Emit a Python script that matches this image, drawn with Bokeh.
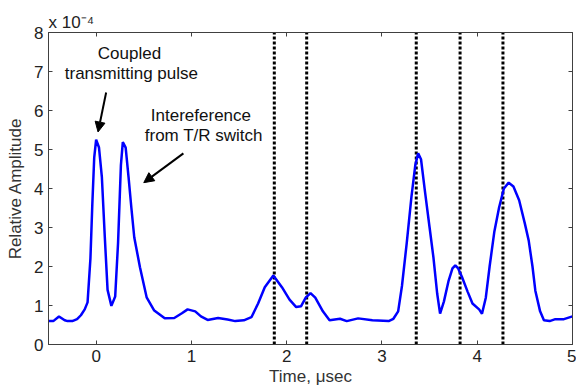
from bokeh.plotting import figure
from bokeh.models import (Range1d, LinearAxis, FixedTicker, Label, Arrow, NormalHead,
                          CustomJSTickFormatter, Title)
from bokeh.embed import file_html
from bokeh.resources import INLINE

# signal samples (time in microseconds, amplitude in 1e-4 units)
time_us = [-0.5, -0.45, -0.39, -0.33, -0.3, -0.25, -0.2, -0.16, -0.12, -0.09, -0.06, -0.04,
           -0.02, 0.0, 0.03, 0.06, 0.09, 0.12, 0.16, 0.2, 0.23, 0.26, 0.28, 0.31, 0.34,
           0.37, 0.4, 0.46, 0.53, 0.61, 0.72, 0.82, 0.9, 0.96, 1.04, 1.1, 1.17, 1.28,
           1.38, 1.46, 1.55, 1.63, 1.7, 1.77, 1.86, 1.95, 2.03, 2.1, 2.15, 2.2, 2.25,
           2.3, 2.38, 2.45, 2.56, 2.63, 2.75, 2.9, 3.07, 3.12, 3.17, 3.21, 3.26, 3.31,
           3.35, 3.38, 3.41, 3.45, 3.5, 3.54, 3.58, 3.61, 3.65, 3.7, 3.74, 3.77, 3.8,
           3.84, 3.9, 3.95, 4.02, 4.05, 4.09, 4.13, 4.18, 4.23, 4.28, 4.33, 4.38,
           4.44, 4.5, 4.54, 4.58, 4.61, 4.66, 4.7, 4.76, 4.82, 4.91, 5.0]
amplitude = [0.6, 0.6, 0.72, 0.62, 0.6, 0.6, 0.65, 0.75, 0.9, 1.08, 2.2, 3.6,
             4.8, 5.25, 5.05, 4.3, 2.8, 1.4, 0.99, 1.23, 2.6, 4.6, 5.19, 5.05, 4.3,
             3.5, 2.75, 1.98, 1.21, 0.87, 0.67, 0.68, 0.8, 0.9, 0.85, 0.72, 0.63, 0.68,
             0.64, 0.6, 0.62, 0.7, 1.05, 1.47, 1.77, 1.47, 1.15, 0.96, 0.98, 1.2, 1.32,
             1.2, 0.85, 0.62, 0.66, 0.6, 0.67, 0.62, 0.6, 0.66, 0.85, 1.5, 2.6, 3.8,
             4.6, 4.9, 4.75, 3.95, 3.0, 2.24, 1.3, 0.79, 1.1, 1.64, 1.95, 2.03, 1.95,
             1.73, 1.35, 1.05, 0.9, 0.79, 1.2, 2.0, 2.9, 3.52, 4.0, 4.15, 4.05,
             3.7, 3.1, 2.67, 2.0, 1.38, 0.85, 0.62, 0.6, 0.65, 0.65, 0.72]

# dotted marker times (microseconds)
marker_times = [1.87, 2.21, 3.36, 3.82, 4.27]

x_ticks = [0, 1, 2, 3, 4, 5]
y_ticks = [0, 1, 2, 3, 4, 5, 6, 7, 8]

FONT = "Liberation Sans"
AX = "#404040"
TXT = "#222222"

p = figure(width=576, height=388, output_backend="svg", toolbar_location=None,
           x_range=Range1d(-0.5, 5), y_range=Range1d(0, 8),
           min_border_left=48, min_border_right=4, min_border_top=32, min_border_bottom=44)
p.background_fill_color = "white"
p.border_fill_color = "white"
p.outline_line_color = AX
p.outline_line_width = 1
p.xgrid.visible = False
p.ygrid.visible = False

for ax in (p.xaxis[0], p.yaxis[0]):
    ax.major_tick_in = 4
    ax.major_tick_out = 0
    ax.minor_tick_in = 0
    ax.minor_tick_out = 0
    ax.axis_line_color = AX
    ax.major_tick_line_color = AX
    ax.major_label_text_font = FONT
    ax.major_label_text_font_size = "17px"
    ax.major_label_text_color = TXT
    ax.axis_label_text_font = FONT
    ax.axis_label_text_font_size = "17px"
    ax.axis_label_text_font_style = "normal"
    ax.axis_label_text_color = "#333333"

p.xaxis[0].ticker = FixedTicker(ticks=x_ticks)
p.yaxis[0].ticker = FixedTicker(ticks=y_ticks)
p.xaxis[0].axis_label = "Time, \u03bcsec"
p.yaxis[0].axis_label = "Relative Amplitude"
p.xaxis[0].major_label_standoff = 5
p.xaxis[0].axis_label_standoff = 2
p.yaxis[0].major_label_standoff = 5
p.yaxis[0].axis_label_standoff = 6

blank = CustomJSTickFormatter(code="return ''")
top = LinearAxis(ticker=FixedTicker(ticks=x_ticks), formatter=blank, major_tick_in=4,
                 major_tick_out=0, minor_tick_in=0, minor_tick_out=0,
                 axis_line_color=AX, major_tick_line_color=AX, major_label_standoff=0)
right = LinearAxis(ticker=FixedTicker(ticks=y_ticks), formatter=blank, major_tick_in=4,
                   major_tick_out=0, minor_tick_in=0, minor_tick_out=0,
                   axis_line_color=AX, major_tick_line_color=AX, major_label_standoff=0)
p.add_layout(top, "above")
p.add_layout(right, "right")

p.add_layout(Title(text="x 10\u207b\u2074", align="left", text_font=FONT,
                   text_font_size="17px", text_font_style="normal", text_color=TXT,
                   standoff=2), "above")

p.segment(x0=marker_times, y0=[0] * len(marker_times), x1=marker_times, y1=[8] * len(marker_times),
          line_color="black", line_width=3, line_dash="3 2")

p.line(time_us, amplitude, line_color="#0000ff", line_width=2.5)

def lab(x, y, t):
    p.add_layout(Label(x=x, y=y, text=t, text_font=FONT, text_font_size="17px",
                       text_align="center", text_baseline="middle", text_color="#111111"))

lab(0.35, 7.46, "Coupled")
lab(0.37, 6.95, "transmitting pulse")
lab(1.1, 5.87, "Intereference")
lab(1.13, 5.36, "from T/R switch")

p.add_layout(Arrow(x_start=0.105, y_start=6.46, x_end=0.02, y_end=5.45, line_width=2,
                   line_color="black", end=NormalHead(size=10, fill_color="black", line_color="black")))
p.add_layout(Arrow(x_start=0.916, y_start=4.9, x_end=0.5, y_end=4.15, line_width=2,
                   line_color="black", end=NormalHead(size=10, fill_color="black", line_color="black")))

open("out.html", "w").write(file_html(p, INLINE))
